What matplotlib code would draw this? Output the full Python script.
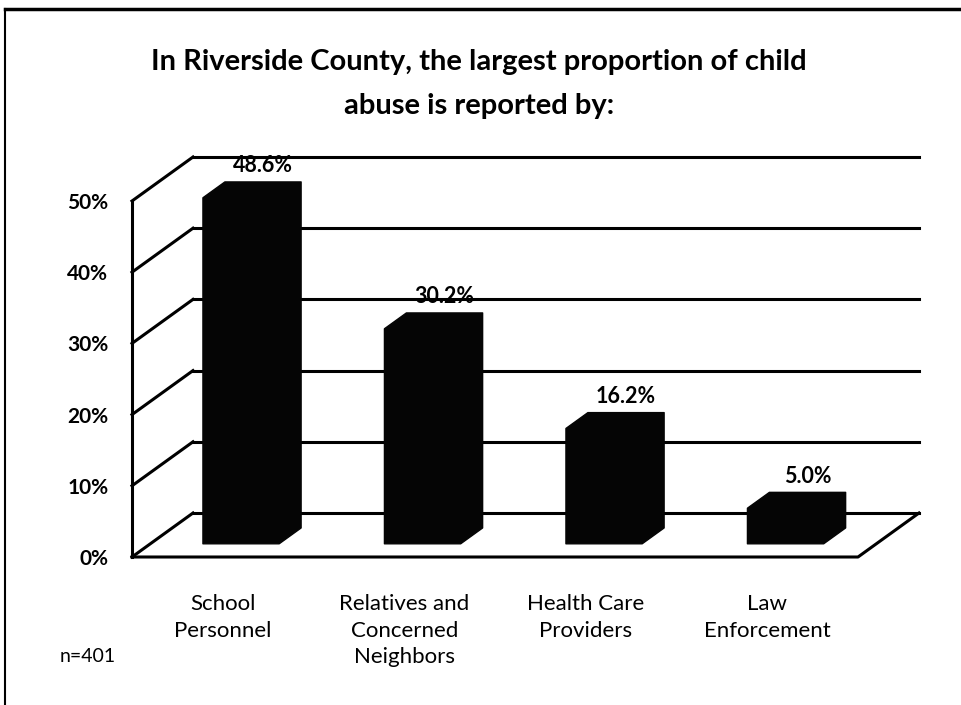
import matplotlib.pyplot as plt
from matplotlib.patches import Polygon
from matplotlib.lines import Line2D

plt.rcParams['font.family'] = ['Lato', 'DejaVu Sans']

# data
categories = ['School\nPersonnel', 'Relatives and\nConcerned\nNeighbors',
              'Health Care\nProviders', 'Law\nEnforcement']
values = [48.6, 30.2, 16.2, 5.0]
value_labels = ['48.6%', '30.2%', '16.2%', '5.0%']
ticks = [0, 10, 20, 30, 40, 50]
tick_labels = ['0%', '10%', '20%', '30%', '40%', '50%']

# oblique "3d" depth offset (x in category units, y in percent)
DX = 0.336
DY = 6.18
D0, D1 = 0.30, 0.66   # bar front / back depth
W = 0.42              # bar front width

fig = plt.figure(figsize=(9.62, 7.05), dpi=100)
ax = fig.add_axes([132 / 962, 148 / 705, 787 / 962, 400 / 705])
ax.set_xlim(0, 4 + DX)
ax.set_ylim(0, 50 + DY)
for s in ax.spines.values():
    s.set_visible(False)

lw = 2.2
# back wall gridlines + side wall diagonals
for t in ticks:
    ax.plot([DX, 4 + DX], [t + DY, t + DY], color='black', lw=lw, zorder=1, clip_on=False)
    ax.plot([0, DX], [t, t + DY], color='black', lw=lw, zorder=1, clip_on=False)
# front axis line and floor
ax.plot([0, 0], [0, 50], color='black', lw=lw, zorder=1, clip_on=False)
ax.plot([0, 4, 4 + DX], [0, 0, DY], color='black', lw=lw, zorder=1, clip_on=False)

# bars
ddx = (D1 - D0) * DX
ddy = (D1 - D0) * DY
for i, v in enumerate(values):
    left = i + 0.5 - W / 2 + D0 * DX
    right = left + W
    b = D0 * DY
    t = v + D0 * DY
    pts = [(left, b), (left, t), (left + ddx, t + ddy), (right + ddx, t + ddy),
           (right + ddx, b + ddy), (right, b)]
    ax.add_patch(Polygon(pts, closed=True, facecolor='#050505', edgecolor='#050505',
                         lw=1, joinstyle='round', zorder=3))
    ax.annotate(value_labels[i], ((left + right) / 2 + ddx, t + ddy),
                xytext=(0, 4), textcoords='offset points', ha='center', va='bottom',
                fontsize=15.5, fontweight='bold', zorder=4)

# axis labels
ax.set_yticks(ticks)
ax.set_yticklabels(tick_labels, fontsize=15, fontweight='bold')
ax.set_xticks([i + 0.5 for i in range(len(categories))])
ax.set_xticklabels(categories, fontsize=16, linespacing=1.38)
ax.tick_params(axis='y', length=0, pad=17)
ax.tick_params(axis='x', length=0, pad=27)

# title and footnote
fig.text(0.498, 1 - 84 / 705, 'In Riverside County, the largest proportion of child\nabuse is reported by:',
         ha='center', va='center', fontsize=21, fontweight='bold', linespacing=1.9)
fig.text(60 / 962, 1 - 656 / 705, 'n=401', ha='left', va='center', fontsize=14)

# chart frame
fig.add_artist(Line2D([5 / 962, 1], [1 - 9 / 705, 1 - 9 / 705], color='black', lw=2.5,
                      transform=fig.transFigure))
fig.add_artist(Line2D([5 / 962, 5 / 962], [0, 1 - 9 / 705], color='black', lw=1.5,
                      transform=fig.transFigure))

fig.savefig('out.png', dpi=100)
